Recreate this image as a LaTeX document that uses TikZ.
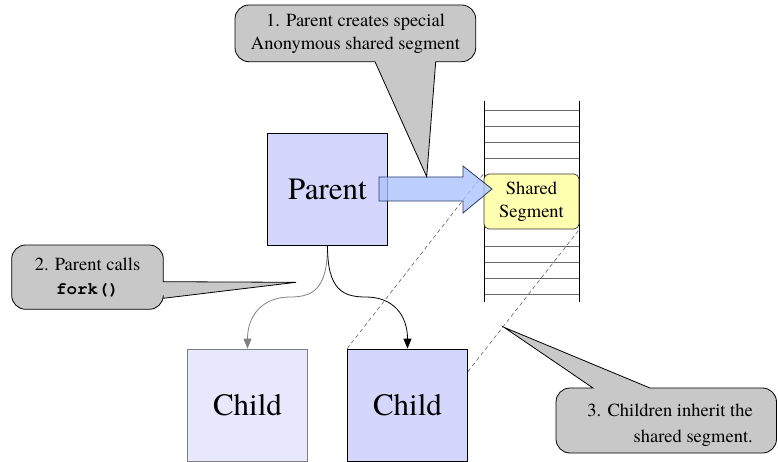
\documentclass[tikz,border=0pt]{standalone}
\usepackage{fontspec}
\setmainfont{texgyretermes}[Extension=.otf, UprightFont=*-regular, BoldFont=*-bold,
  ItalicFont=*-italic, BoldItalicFont=*-bolditalic]
\setmonofont{texgyrecursor}[Extension=.otf, UprightFont=*-regular, BoldFont=*-bold,
  ItalicFont=*-italic, BoldItalicFont=*-bolditalic]
\usetikzlibrary{arrows.meta,calc}

\definecolor{procfill}{HTML}{D5D6FB}
\definecolor{childfill}{HTML}{E8E8FC}
\definecolor{segfill}{HTML}{FFFFB0}
\definecolor{notefill}{HTML}{C8C8C8}
\definecolor{flowfill}{HTML}{AAC2FF}
\definecolor{flowline}{HTML}{2B3A66}

\tikzset{
  proc/.style={draw=black, fill=procfill, line width=0.8pt, minimum width=120pt,
    minimum height=112pt, inner sep=0pt, font=\rmfamily\fontsize{31}{36}\selectfont},
  ghost/.style={proc, draw=black!50, fill=childfill},
  segbox/.style={draw=black!80, fill=segfill, line width=0.7pt, rounded corners=5pt,
    minimum width=95pt, minimum height=55pt, inner sep=0pt, align=center,
    font=\rmfamily\fontsize{18.5}{23}\selectfont},
  note/.style={draw=black, fill=notefill, line width=0.8pt},
  notetext/.style={font=\rmfamily\fontsize{18.5}{23}\selectfont, inner sep=0pt},
  slot/.style={draw=black!60, line width=0.5pt},
  rail/.style={draw=black, line width=0.8pt},
  proj/.style={draw=black!70, dashed, dash pattern=on 4pt off 3pt, line width=0.5pt},
  forkgray/.style={draw=black!50, line width=0.8pt, -{Triangle[length=10pt,width=8pt]}},
  forkblack/.style={draw=black, line width=0.8pt, -{Triangle[length=10pt,width=8pt]}},
}

\begin{document}
\begin{tikzpicture}[x=1pt, y=-1pt]
\useasboundingbox (0,0) rectangle (778,462);

% memory stack
\foreach \yy in {110,126,142,158,246,262,278,294}
  \draw[slot] (484,\yy) -- (579,\yy);
\draw[rail] (484,101) -- (484,302);
\draw[rail] (579,101) -- (579,302);

% shared segment inside the stack
\node[segbox] (shared) at (531.5,201.5) {Shared\\Segment};

% processes
\node[proc]  (parent) at (327.5,189.5) {Parent};
\node[ghost] (child1) at (247.5,405)   {Child};
\node[proc]  (child2) at (407.5,405)   {Child};

% fork edges
\draw[forkgray] (parent.south) .. controls (327.5,290) and (312,297) .. (290,297)
  .. controls (263,297) and (247.5,315) .. (child1.north);
\draw[forkblack] (parent.south) .. controls (327.5,290) and (343,297) .. (366,297)
  .. controls (393,297) and (407.5,315) .. (child2.north);

% projection of the segment onto the child
\coordinate (c2edge) at ($(child2.north east)+(0,23)$);
\draw[proj] (child2.north west) -- (shared.north west);
\draw[proj] (c2edge) -- (shared.south east);

% block arrow from parent to the segment
\draw[flowline, line width=0.8pt, fill=flowfill, fill opacity=0.78, line join=miter]
  (379,177) -- (463,177) -- (463,166) -- (492,189) -- (463,213) -- (463,201) -- (379,201) -- cycle;

% callout 1
\coordinate (tip1) at (426.7,176.7);
\draw[note] [rounded corners=14pt] (350,5) -- (235,5) -- (235,61.7)
  [sharp corners] -- (375,61.7) -- (tip1) -- (435.7,61.7)
  [rounded corners=14pt] -- (475.7,61.7) -- (475.7,5) -- cycle;
\node[notetext, align=center] (note1) at (355.5,33.5)
  {1. Parent creates special\\Anonymous shared segment};

% callout 2
\coordinate (tip2) at (296,282.3);
\draw[note] [rounded corners=14pt] (90,245) -- (11.7,245) -- (11.7,309.3) -- (163.3,309.3)
  [sharp corners] -- (163.3,298.3) -- (tip2) -- (163.3,281.7)
  [rounded corners=14pt] -- (163.3,245) -- cycle;
\node[notetext, align=center] (note2) at (87.5,278)
  {2. Parent calls\\[1pt]{\ttfamily\bfseries\fontsize{17.5}{20}\selectfont fork()}};

% callout 3
\coordinate (tip3) at (504,327.3);
\draw[note] [rounded corners=14pt] (700,388) -- (776.5,388) -- (776.5,453) -- (556,453)
  -- (556,388) [sharp corners] -- (593,388) -- (tip3) -- (650,388)
  [rounded corners=14pt] -- cycle;
\node[notetext, align=right, anchor=east] (note3) at (753,425.5)
  {3. Children inherit the\\[3pt]shared segment.};
\end{tikzpicture}
\end{document}
